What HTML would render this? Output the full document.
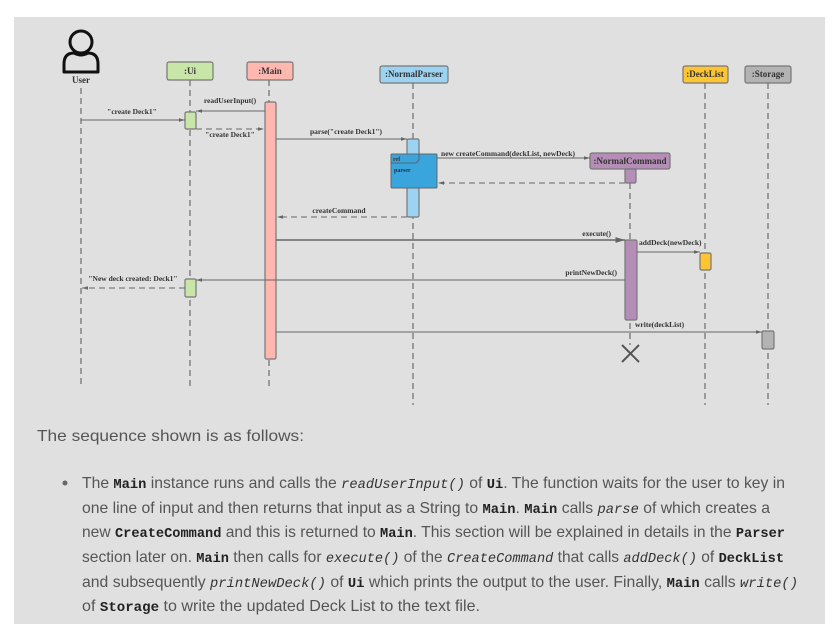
<!DOCTYPE html>
<html><head><meta charset="utf-8"><style>
html,body{margin:0;padding:0;background:#fff;width:839px;height:624px;overflow:hidden}
svg{display:block}
.d{font-family:"Liberation Serif",serif;font-weight:bold;fill:#333}
.t{font-family:"Liberation Sans",sans-serif;fill:#555;font-size:16px}
.c{font-family:"Liberation Mono",monospace;font-weight:bold;fill:#222;font-size:14px}
.i{font-family:"Liberation Mono",monospace;font-style:italic;fill:#333;font-size:14px}
</style></head><body>
<svg width="839" height="624" viewBox="0 0 839 624" xmlns="http://www.w3.org/2000/svg">
<defs>
<marker id="a" viewBox="0 0 10 10" refX="10" refY="5" markerWidth="6" markerHeight="6" orient="auto"><path d="M0,2 L10,5 L0,8z" fill="#666"/></marker>
</defs>
<rect x="14" y="17" width="811" height="607" fill="#e0e0e0"/>
<g stroke="#555" stroke-width="1" stroke-dasharray="6,4" fill="none">
<line x1="81" y1="88" x2="81" y2="388"/>
<line x1="190" y1="80" x2="190" y2="388"/>
<line x1="269" y1="80" x2="269" y2="388"/>
<line x1="413" y1="83" x2="413" y2="405"/>
<line x1="630" y1="183" x2="630" y2="345"/>
<line x1="705" y1="83" x2="705" y2="405"/>
<line x1="768" y1="83" x2="768" y2="405"/>
</g>
<circle cx="81" cy="42" r="11" fill="none" stroke="#111" stroke-width="3"/>
<path d="M64,72 L64,64 Q64,53 74,53 Q81,57 88,53 Q98,53 98,64 L98,72 Z" fill="none" stroke="#111" stroke-width="3" stroke-linejoin="round"/>
<text class="d" x="81" y="83" font-size="9" text-anchor="middle">User</text>
<g stroke="#777" stroke-width="1.2">
<rect x="167" y="62" width="46" height="18" rx="2" fill="#c8e6a8"/>
<rect x="247" y="62" width="46" height="18" rx="2" fill="#ffb8b0"/>
<rect x="380" y="66" width="68" height="17" rx="2" fill="#9dd3f2"/>
<rect x="683" y="66" width="45" height="17" rx="2" fill="#fdc534"/>
<rect x="745" y="66" width="46" height="17" rx="2" fill="#b3b3b3"/>
<rect x="590" y="153" width="80" height="16" rx="2" fill="#b58eb7"/>
</g>
<g class="d" font-size="9" text-anchor="middle">
<text x="190" y="74">:Ui</text>
<text x="270" y="74">:Main</text>
<text x="414" y="77">:NormalParser</text>
<text x="705" y="77">:DeckList</text>
<text x="768" y="77">:Storage</text>
<text x="630" y="164">:NormalCommand</text>
</g>
<g stroke="#777" stroke-width="1.2">
<rect x="265" y="102" width="11" height="257" rx="1.5" fill="#ffb8b0"/>
<rect x="185" y="112" width="11" height="17" rx="1.5" fill="#c8e6a8"/>
<rect x="185" y="279" width="11" height="18" rx="1.5" fill="#c8e6a8"/>
<rect x="407" y="139" width="12" height="78" rx="1.5" fill="#9dd3f2"/>
<rect x="625" y="169" width="11" height="14" rx="1.5" fill="#b58eb7"/>
<rect x="625" y="240" width="12" height="80" rx="1.5" fill="#b58eb7"/>
<rect x="700" y="253" width="11" height="17" rx="1.5" fill="#fdc534"/>
<rect x="762" y="331" width="12" height="18" rx="1.5" fill="#b3b3b3"/>
</g>
<rect x="391" y="154" width="46" height="34" rx="1" fill="#3aa5dc" stroke="#666" stroke-width="1"/>
<path d="M391,163 L416,163 L419,160 L419,154" fill="none" stroke="#555" stroke-width="0.8"/>
<text class="d" x="393" y="161" font-size="6" fill="#222">ref</text>
<text class="d" x="394" y="172" font-size="6" style="fill:#234">parser</text>
<g stroke="#666" stroke-width="1" fill="none" marker-end="url(#a)">
<line x1="265" y1="111" x2="196" y2="111"/>
<line x1="81" y1="120" x2="185" y2="120"/>
<line x1="196" y1="129" x2="264" y2="129" stroke-dasharray="6,4"/>
<line x1="276" y1="139" x2="407" y2="139"/>
<line x1="437" y1="158" x2="590" y2="158"/>
<line x1="625" y1="183" x2="438" y2="183" stroke-dasharray="6,4"/>
<line x1="407" y1="217" x2="277" y2="217" stroke-dasharray="6,4"/>
<line x1="276" y1="240" x2="625" y2="240" stroke-width="1.6"/>
<line x1="637" y1="252" x2="700" y2="252"/>
<line x1="625" y1="280" x2="196" y2="280"/>
<line x1="185" y1="288" x2="82" y2="288" stroke-dasharray="6,4"/>
<line x1="276" y1="332" x2="762" y2="332"/>
</g>
<g stroke="#555" stroke-width="2"><line x1="622" y1="345" x2="639" y2="362"/><line x1="639" y1="345" x2="622" y2="362"/></g>
<g class="d" font-size="7.5">
<text x="230" y="103" text-anchor="middle">readUserInput()</text>
<text x="132" y="114" text-anchor="middle">"create Deck1"</text>
<text x="230" y="137" text-anchor="middle">"create Deck1"</text>
<text x="346" y="134" text-anchor="middle">parse("create Deck1")</text>
<text x="441" y="156" textLength="134" lengthAdjust="spacingAndGlyphs">new createCommand(deckList, newDeck)</text>
<text x="339" y="213" text-anchor="middle">createCommand</text>
<text x="611" y="236" text-anchor="end">execute()</text>
<text x="639" y="245">addDeck(newDeck)</text>
<text x="617" y="275" text-anchor="end">printNewDeck()</text>
<text x="133" y="281" text-anchor="middle">"New deck created: Deck1"</text>
<text x="635" y="327">write(deckList)</text>
</g>
<text class="t" x="37" y="441" textLength="267" lengthAdjust="spacingAndGlyphs">The sequence shown is as follows:</text>
<circle cx="65" cy="483" r="2.5" fill="#666"/>
<text class="t" x="82" y="488" textLength="703" lengthAdjust="spacingAndGlyphs">The <tspan class="c">Main</tspan> instance runs and calls the <tspan class="i">readUserInput()</tspan> of <tspan class="c">Ui</tspan>. The function waits for the user to key in</text>
<text class="t" x="82" y="513" textLength="688" lengthAdjust="spacingAndGlyphs">one line of input and then returns that input as a String to <tspan class="c">Main</tspan>. <tspan class="c">Main</tspan> calls <tspan class="i">parse</tspan> of which creates a</text>
<text class="t" x="82" y="537" textLength="703" lengthAdjust="spacingAndGlyphs">new <tspan class="c">CreateCommand</tspan> and this is returned to <tspan class="c">Main</tspan>. This section will be explained in details in the <tspan class="c">Parser</tspan></text>
<text class="t" x="82" y="562" textLength="702" lengthAdjust="spacingAndGlyphs">section later on. <tspan class="c">Main</tspan> then calls for <tspan class="i">execute()</tspan> of the <tspan class="i">CreateCommand</tspan> that calls <tspan class="i">addDeck()</tspan> of <tspan class="c">DeckList</tspan></text>
<text class="t" x="82" y="587" textLength="716" lengthAdjust="spacingAndGlyphs">and subsequently <tspan class="i">printNewDeck()</tspan> of <tspan class="c">Ui</tspan> which prints the output to the user. Finally, <tspan class="c">Main</tspan> calls <tspan class="i">write()</tspan></text>
<text class="t" x="82" y="611" textLength="398" lengthAdjust="spacingAndGlyphs">of <tspan class="c">Storage</tspan> to write the updated Deck List to the text file.</text>
</svg>
</body></html>
